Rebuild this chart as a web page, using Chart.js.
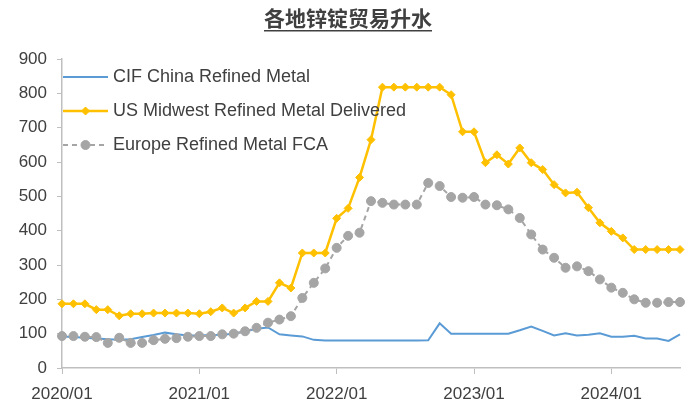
<!DOCTYPE html>
<html>
<head>
<meta charset="utf-8">
<script src="https://cdn.jsdelivr.net/npm/chart.js@4.4.1/dist/chart.umd.min.js"></script>
<style>
  html, body { margin: 0; padding: 0; background: #ffffff; }
  #wrap { width: 694px; height: 410px; }
</style>
</head>
<body>
<div id="wrap"><canvas id="c" width="694" height="410"></canvas></div>
<script>
// Zinc ingot trade premiums by region, USD/t, monthly 2020/01 - 2024/07
const chartTitle = '各地锌锭贸易升水';

const months = [
  '2020/01','2020/02','2020/03','2020/04','2020/05','2020/06','2020/07','2020/08','2020/09','2020/10','2020/11','2020/12',
  '2021/01','2021/02','2021/03','2021/04','2021/05','2021/06','2021/07','2021/08','2021/09','2021/10','2021/11','2021/12',
  '2022/01','2022/02','2022/03','2022/04','2022/05','2022/06','2022/07','2022/08','2022/09','2022/10','2022/11','2022/12',
  '2023/01','2023/02','2023/03','2023/04','2023/05','2023/06','2023/07','2023/08','2023/09','2023/10','2023/11','2023/12',
  '2024/01','2024/02','2024/03','2024/04','2024/05','2024/06','2024/07'
];

// labels shown on the x axis
const yearTicks = ['2020/01', '2021/01', '2022/01', '2023/01', '2024/01'];

const seriesNames = [
  'CIF China Refined Metal',
  'US Midwest Refined Metal Delivered',
  'Europe Refined Metal FCA'
];

const cifChina = [
  92, 90, 88, 86, 84, 82, 84, 90, 96, 103, 98, 95,
  95, 96, 97, 100, 106, 114, 118, 98, 95, 92, 82, 80,
  80, 80, 80, 80, 80, 80, 80, 80, 81, 130, 100, 100,
  100, 100, 100, 100, 110, 121, 108, 95, 101, 95, 97, 101,
  91, 91, 94, 86, 86, 79, 98
];

const usMidwest = [
  187, 187, 187, 170, 170, 152, 158, 158, 160, 160, 160, 160,
  158, 164, 175, 160, 175, 194, 194, 248, 233, 335, 335, 335,
  436, 465, 555, 665, 818, 818, 818, 818, 818, 818, 796, 688,
  688, 598, 621, 594, 641, 598, 578, 534, 510, 512, 467, 423,
  398, 379, 345, 345, 345, 345, 345
];

const europeFCA = [
  93, 93, 91, 90, 73, 88, 73, 73, 81, 85, 87, 91,
  93, 93, 98, 100, 107, 117, 132, 141, 151, 204, 248, 290,
  350, 385, 394, 486, 481, 476, 476, 476, 539, 530, 498, 496,
  498, 476, 474, 462, 437, 389, 345, 321, 292, 296, 282, 258,
  234, 219, 200, 190, 190, 192, 192
];

const textColor = '#404040';
const axisColor = '#bfbfbf';
const tickFont = { family: '"Liberation Sans", Arial, sans-serif', size: 17 };

// Title with underline, and a stacked legend inside the plot area
const titleAndLegend = {
  id: 'titleAndLegend',
  afterDraw(chart) {
    const c = chart.ctx;
    c.save();
    c.font = 'bold 21px "Noto Sans CJK SC"';
    c.fillStyle = textColor;
    c.textAlign = 'center';
    c.textBaseline = 'middle';
    const cx = 348;
    c.fillText(chartTitle, cx, 18);
    const tw = c.measureText(chartTitle).width;
    c.fillRect(cx - tw / 2, 30, tw, 1.5);

    const x0 = 63, x1 = 108, tx = 113;
    chart.data.datasets.forEach((ds, i) => {
      const y = 77 + i * 34;
      c.save();
      c.strokeStyle = ds.borderColor;
      c.lineWidth = ds.borderWidth;
      c.setLineDash(ds.borderDash || []);
      c.beginPath();
      c.moveTo(x0, y);
      c.lineTo(x1, y);
      c.stroke();
      c.restore();
      if (ds.pointRadius > 0) {
        c.save();
        c.fillStyle = ds.backgroundColor;
        c.strokeStyle = ds.borderColor;
        c.lineWidth = 1;
        Chart.helpers.drawPoint(c, {
          pointStyle: ds.pointStyle,
          radius: ds.pointRadius,
          borderWidth: 1,
          rotation: 0
        }, (x0 + x1) / 2, y);
        c.restore();
      }
      c.fillStyle = textColor;
      c.font = '18px "Liberation Sans", Arial, sans-serif';
      c.textAlign = 'left';
      c.textBaseline = 'middle';
      c.fillText(ds.label, tx, y);
    });
    c.restore();
  }
};

new Chart(document.getElementById('c'), {
  type: 'line',
  data: {
    labels: months,
    datasets: [
      {
        label: seriesNames[0],
        data: cifChina,
        borderColor: '#5b9bd5',
        backgroundColor: '#5b9bd5',
        borderWidth: 2,
        pointRadius: 0,
        tension: 0,
        order: 3
      },
      {
        label: seriesNames[1],
        data: usMidwest,
        borderColor: '#ffc000',
        backgroundColor: '#ffc000',
        borderWidth: 2.5,
        pointStyle: 'rectRot',
        pointRadius: 4,
        pointBorderWidth: 1,
        tension: 0,
        order: 2
      },
      {
        label: seriesNames[2],
        data: europeFCA,
        borderColor: '#a5a5a5',
        backgroundColor: '#a5a5a5',
        borderWidth: 2,
        borderDash: [5, 4],
        pointStyle: 'circle',
        pointRadius: 4.5,
        pointBorderWidth: 1,
        tension: 0,
        order: 1
      }
    ]
  },
  options: {
    responsive: false,
    animation: false,
    devicePixelRatio: 1,
    layout: { padding: { top: 59, right: 14, left: 0, bottom: 0 } },
    plugins: {
      legend: { display: false },
      tooltip: { enabled: false }
    },
    scales: {
      x: {
        grid: {
          drawOnChartArea: false,
          drawTicks: true,
          tickLength: 6,
          color: (ctx) => (ctx.tick && yearTicks.includes(ctx.tick.label)) ? axisColor : 'rgba(0,0,0,0)'
        },
        border: { color: axisColor, width: 1.5 },
        ticks: {
          autoSkip: false,
          maxRotation: 0,
          color: textColor,
          font: tickFont,
          padding: 10,
          callback: (v, i) => yearTicks.includes(months[i]) ? months[i] : ''
        },
        afterFit: (s) => { s.height = 42; }
      },
      y: {
        min: 0,
        max: 900,
        grid: { drawOnChartArea: false, drawTicks: true, tickLength: 5, color: axisColor },
        border: { color: axisColor, width: 1.5 },
        ticks: { stepSize: 100, color: textColor, font: tickFont, padding: 10 },
        afterFit: (s) => { s.width = 62; }
      }
    }
  },
  plugins: [titleAndLegend]
});
</script>
</body>
</html>
